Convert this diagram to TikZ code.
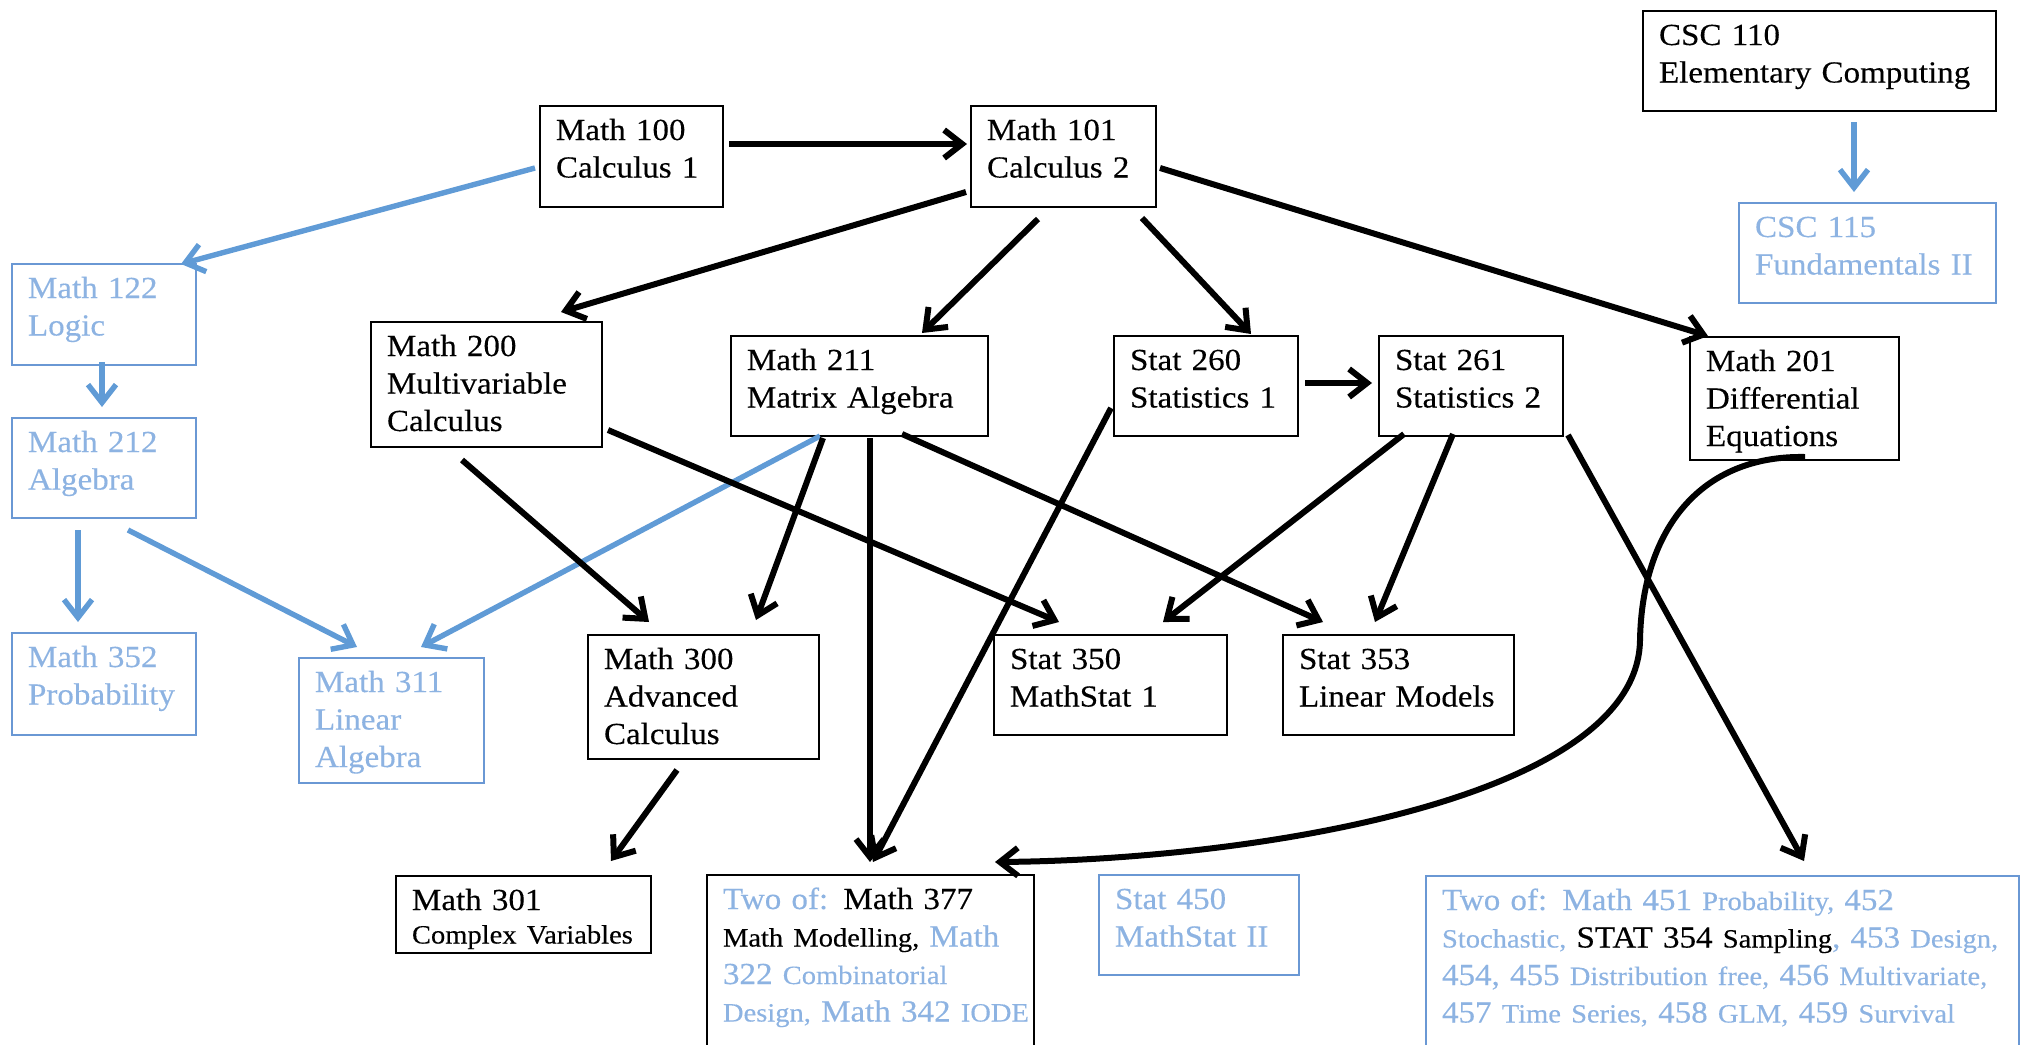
\documentclass[tikz,border=0pt]{standalone}
\usepackage{fontspec}
\setmainfont{Liberation Serif}[FakeStretch=1.08, FakeBold=0.3]
\usetikzlibrary{arrows.meta, calc, positioning}

\definecolor{txtblue}{RGB}{141,179,226}
\definecolor{boxblue}{RGB}{106,152,212}
\definecolor{arrblue}{RGB}{96,155,214}
\newcommand{\szbig}{\fontsize{15.3}{18.75}\selectfont}
\newcommand{\szsm}{\fontsize{13.2}{18.75}\selectfont}
\newcommand{\bl}[1]{\textcolor{txtblue}{#1}}

\begin{document}
\begin{tikzpicture}[x=0.5pt, y=-0.5pt,
course/.style 2 args={draw, line width=1pt, anchor=north west, align=left,
    inner xsep=8pt, inner ysep=0pt, text height=17pt, font=\szbig,
    text width=#1, text depth=#2},
course-blue/.style 2 args={course={#1}{#2}, draw=boxblue, text=txtblue},
line/.style={draw, line width=3pt, -{Straight Barb[length=9pt, width=14pt]}},
line-blue/.style={line, draw=arrblue, line width=2.7pt}
]
\useasboundingbox (0,0) rectangle (2023,1044);

% first year
\node [course={75.5pt}{33.5pt}] (m100) at (539,105) {Math 100\\Calculus 1};
\node [course={76.5pt}{33.5pt}] (m101) at (970,105) {Math 101\\Calculus 2};
\node [course={160.5pt}{33pt}] (csc110) at (1642,10) {CSC 110\\Elementary Computing};
\node [course-blue={112.5pt}{33pt}] (csc115) at (1738,202) {CSC 115\\Fundamentals II};
\node [course-blue={76pt}{33.5pt}] (m122) at (11,263) {Math 122\\Logic};

% second year
\node [course-blue={76pt}{33pt}] (m212) at (11,417) {Math 212\\Algebra};
\node [course={99.5pt}{45.5pt}] (m200) at (370,321) {Math 200\\Multivariable\\Calculus};
\node [course={112.5pt}{33pt}] (m211) at (730,335) {Math 211\\Matrix Algebra};
\node [course={76pt}{33pt}] (s260) at (1113,335) {Stat 260\\Statistics 1};
\node [course={76pt}{33pt}] (s261) at (1378,335) {Stat 261\\Statistics 2};
\node [course={88.5pt}{44.5pt}] (m201) at (1689,336) {Math 201\\Differential\\Equations};

% third year
\node [course-blue={76pt}{34pt}] (m352) at (11,632) {Math 352\\Probability};
\node [course-blue={76.5pt}{45.5pt}] (m311) at (298,657) {Math 311\\Linear\\Algebra};
\node [course={99.5pt}{45pt}] (m300) at (587,634) {Math 300\\Advanced\\Calculus};
\node [course={100.5pt}{33pt}] (s350) at (993,634) {Stat 350\\MathStat 1};
\node [course={99.5pt}{33pt}] (s353) at (1282,634) {Stat 353\\Linear Models};

% fourth year
\node [course={111.5pt}{21.5pt}] (m301) at (395,875) {Math 301\\[-2pt]{\szsm Complex Variables}};
\node [course={147.5pt}{78pt}] (m377) at (706,874) {\mbox{\bl{Two of:} Math 377}\\
    \mbox{{\szsm Math Modelling,} \bl{Math}}\\
    \mbox{\bl{322 {\szsm Combinatorial}}}\\
    \mbox{\bl{{\szsm Design,} Math 342 {\szsm IODE}}}};
\node [course-blue={84pt}{33pt}] (s450) at (1098,874) {Stat 450\\MathStat II};
\node [course-blue={280.5pt}{78pt}] (elect) at (1425,875) {\mbox{Two of: Math 451 {\szsm Probability,} 452}\\
    \mbox{{\szsm Stochastic,} \textcolor{black}{STAT 354 {\szsm Sampling}}, 453 {\szsm Design,}}\\
    \mbox{454, 455 {\szsm Distribution free,} 456 {\szsm Multivariate,}}\\
    \mbox{457 {\szsm Time Series,} 458 {\szsm GLM,} 459 {\szsm Survival}}};

% prerequisites
\draw [line] ($(m100.north east)+(5,39)$) -- ($(m101.north west)+(-3,39)$);
\draw [line-blue] ($(m100.north west)+(-4,63)$) -- ($(m122.north east)+(-16,1)$);
\draw [line] ($(m101.north west)+(-4,87)$) -- ($(m200.north west)+(191,-9)$);
\draw [line] ($(m101.south west)+(68,11)$) -- ($(m211.north west)+(192,-2)$);
\draw [line] ($(m101.south west)+(172,10)$) -- ($(s260.north west)+(138,-1)$);
\draw [line] ($(m101.north east)+(3,63)$) -- ($(m201.north west)+(19,0)$);
\draw [line] ($(s260.north east)+(6,48)$) -- ($(s261.north west)+(-6,48)$);
\draw [line-blue] ($(csc110.south west)+(212,10)$) -- ($(csc115.north west)+(116,-10)$);
\draw [line-blue] ($(m122.south west)+(91,-4)$) -- ($(m212.north west)+(91,-10)$);
\draw [line-blue] ($(m212.south west)+(67,11)$) -- ($(m352.north west)+(67,-10)$);
\draw [line-blue] ($(m212.south west)+(117,11)$) -- ($(m311.north west)+(59,-10)$);
\draw [line-blue] ($(m211.south west)+(90,-1)$) -- ($(m311.north west)+(123,-10)$);
\draw [line] ($(m200.south west)+(92,12)$) -- ($(m300.north west)+(62,-12)$);
\draw [line] ($(m211.south west)+(93,1)$) -- ($(m300.north west)+(169,-14)$);
\draw [line] ($(m211.south west)+(140,1)$) -- ($(m377.north west)+(164,-12)$);
\draw [line] ($(s260.north west)+(-2,73)$) -- ($(m377.north west)+(167,-12)$);
\draw [line] ($(m200.north east)+(5,109)$) -- ($(s350.north west)+(66,-12)$);
\draw [line] ($(m211.south west)+(172,-3)$) -- ($(s353.north west)+(41,-12)$);
\draw [line] ($(s261.south west)+(26,-3)$) -- ($(s350.north west)+(170,-12)$);
\draw [line] ($(s261.south west)+(75,-3)$) -- ($(s353.north west)+(93,-12)$);
\draw [line] ($(s261.south east)+(4,-2)$) -- ($(elect.north west)+(379,-14)$);
\draw [line] ($(m300.south west)+(90,10)$) -- ($(m301.north west)+(216,-14)$);
\draw [line] ($(m201.south west)+(116,-4)$) .. controls (1700,455) and (1642,530) .. (1640,640)
    .. controls (1638,800) and (1250,860) .. ($(m377.north east)+(-40,-12)$);
\end{tikzpicture}
\end{document}
